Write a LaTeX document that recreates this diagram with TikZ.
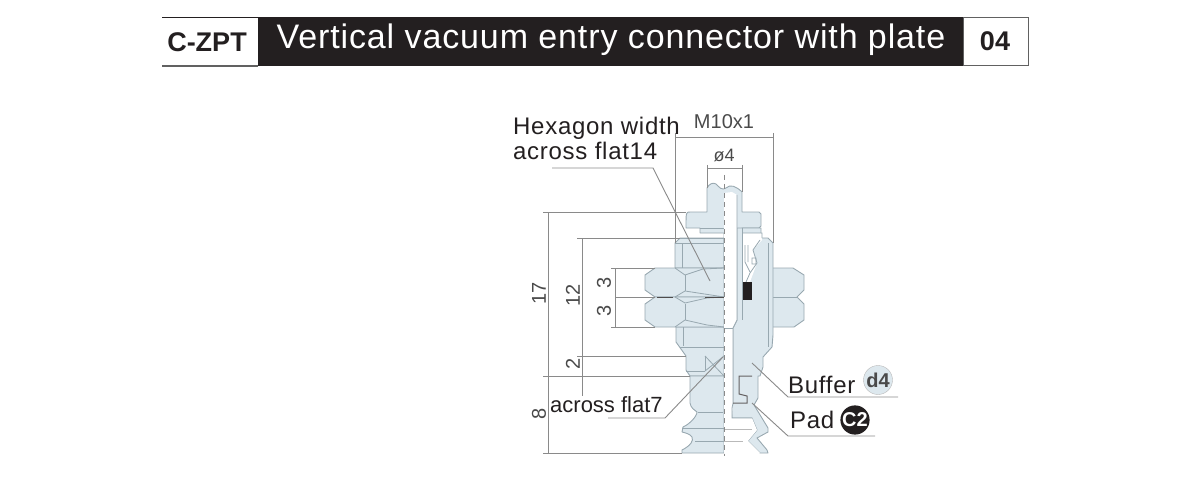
\documentclass[tikz,border=0pt]{standalone}
\usepackage{fontspec}
\setmainfont{Liberation Sans}
\newfontfamily\widefont[LetterSpace=3]{Liberation Sans}
\newfontfamily\titlefont[LetterSpace=2.6]{Liberation Sans}
\definecolor{barblack}{HTML}{231F20}
\definecolor{bodyblue}{HTML}{DDE8EE}
\definecolor{edgegrey}{HTML}{98A8B0}
\definecolor{dimgrey}{HTML}{8A8A8A}
\definecolor{numgrey}{HTML}{4A4A4A}
\tikzset{
    partline/.style={draw=edgegrey, fill=bodyblue, line width=0.9pt, line join=round},
    innerline/.style={edgegrey, line width=0.8pt},
    dimline/.style={dimgrey, line width=0.9pt},
    leader/.style={dimgrey, line width=0.9pt},
    dimtext/.style={numgrey, font=\fontsize{20}{20}\selectfont, inner sep=0pt},
    calltext/.style={barblack, font=\widefont\fontsize{24}{25}\selectfont, inner sep=0pt, align=left},
}
\begin{document}
\begin{tikzpicture}[x=1pt, y=-1pt]
        \useasboundingbox (0,0) rectangle (1200,500);

        % header bar
        \fill[barblack] (258,17) rectangle (963,66);
        \draw[barblack, line width=1pt] (162,17.5) -- (258,17.5);
        \draw[dimgrey!70!black, line width=1.2pt] (162,66) -- (258,66);
        \draw[fill=white, draw=dimgrey!70!black, line width=1pt] (963,18) rectangle (1028,66);
        \node[inner sep=0pt, font=\bfseries\fontsize{27}{27}\selectfont, barblack] (series) at (207,42) {C-ZPT};
        \node[inner sep=0pt, text=white, font=\titlefont\fontsize{34}{34}\selectfont] (title) at (611,40) {Vertical vacuum entry connector with plate};
        \node[inner sep=0pt, font=\bfseries\fontsize{27}{27}\selectfont, barblack] (page) at (995,41) {04};

        % right nuts, behind the body
        \draw[partline] (770,268) -- (793,268) -- (804,275) -- (804,290) -- (797,297) -- (804,304) -- (804,320) -- (794,327) -- (770,327) -- cycle;
        \draw[innerline] (773,297) -- (797,297);

        % left half of body
        \draw[partline] (724,238) -- (680,238) -- (675,243) -- (675,268) -- (724,268) -- cycle;
        \draw[partline] (724,327) -- (676,327) -- (676,342) -- (686,356) -- (686,370) -- (690,376) -- (724,376) -- cycle;
        \draw[partline] (724,376) -- (690,376) -- (690,403) .. controls (691,408) and (694,410) .. (697,412) .. controls (697,416) and (690,424) .. (683,427) -- (682,432) .. controls (686,433) and (690,434) .. (692,437) .. controls (694,441) and (690,446) .. (682,450) -- (682,453) -- (724,453) -- cycle;
        \draw[partline] (686,228) .. controls (686,212) and (686,212) .. (690,212) -- (707,212) -- (707,188) .. controls (709,184) and (713,182) .. (716,184) .. controls (719,187) and (722,191) .. (726,188) .. controls (730,184) and (736,186) .. (742,192) -- (742,212) -- (759,212) -- (761,214) -- (761,226) -- (759,228) -- (742,228) -- (742,320) -- (737,320) -- (733,328) -- (724,328) -- (724,233) -- (700,233) -- (700,228) -- cycle;

        % nuts on the left
        \draw[partline] (724,268) -- (655,268) -- (645,275) -- (645,290) -- (655,297) -- (724,297) -- cycle;
        \draw[partline] (724,297) -- (655,297) -- (645,304) -- (645,320) -- (655,327) -- (724,327) -- cycle;
        \draw[innerline] (685,275) -- (685,291) (685,304) -- (685,320);
        \draw[innerline] (675,268) -- (685,275) -- (703,269) -- (724,268);
        \draw[innerline] (675,297) -- (685,291) -- (724,297) -- (707,298) -- (685,303) -- (675,297);
        \draw[innerline] (675,327) -- (685,320) -- (707,325) -- (724,327);
        \draw[barblack!80, line width=0.8pt] (657,297) -- (673,297) (705,297) -- (724,297);

        % right body and pad holder
        \draw[partline] (737,228) -- (761,228) -- (761,238) -- (768,238) -- (773,243) -- (773,335) -- (772,347) -- (763,357) -- (763,367) -- (760,376) -- (758,376) -- (758,398) -- (754,405) -- (768,428) -- (768,432) -- (757,438) -- (767,450) -- (768,453) -- (760,453) -- (748,441) -- (757,430) -- (752,418) -- (732,418) -- (732,408) -- (733,403) -- (733,328) -- (737,320) -- cycle;
        \fill[white] (724,193) -- (732,192) -- (737,195) -- (737,320) -- (733,328) -- (733,403) -- (732,418) -- (752,418) -- (757,430) -- (748,441) -- (760,453) -- (724,453) -- cycle;
        \draw[innerline] (737,195) -- (737,320) -- (733,328) -- (733,403) -- (732,408) -- (732,418) -- (752,418);
        \draw[innerline] (725,328) -- (733,328);

        % cavity, seal and inner lines
        \fill[white] (743,233) -- (762,233) -- (762,240) -- (753,250) -- (757,263) -- (750,282) -- (743,282) -- cycle;
        \draw[innerline] (743,233) -- (762,233) -- (762,238) (760,240) -- (753,250) -- (757,263) -- (750,273) -- (746,282);
        \draw[innerline] (748,245) -- (748,262) (745,245) -- (745,262) (745,262) -- (750,272) (752,258) rectangle (756,264);
        \fill[barblack] (743,282) rectangle (752,300);
        \draw[innerline] (768,243) -- (768,347);
        \draw[innerline] (742,228) -- (742,320);
        \draw[barblack!70, line width=1pt] (752,376) -- (739,376) -- (739,394) -- (747,396) -- (747,403) -- (733,403);
        \draw[innerline] (700,228) -- (724,228) (680,238) -- (724,238) (675,243) -- (724,243) (682,243) -- (682,268);
        \draw[innerline] (683,327) -- (683,346) (680,347) -- (724,347) (686,371) -- (705,371);
        \draw[innerline] (705,356) -- (705,371);
        \draw[innerline] (705,356) -- (724,376) (724,356) -- (705,371);
        \draw[innerline] (698,412) -- (723,412) (682,428) -- (724,428) (695,441) -- (724,441);
        \draw[dimgrey!60] (724,429) -- (752,429) (724,441) -- (743,441);

        % centre line
        \draw[dimgrey, line width=1pt, dash pattern=on 5pt off 4pt] (724,175) -- (724,456);

        % dimension lines
        \coordinate (threadL) at (675,133);
        \coordinate (threadR) at (773,133);
        \coordinate (boreL) at (707,165);
        \coordinate (boreR) at (742,165);
        \draw[dimline] (threadL) -- (675,243) (threadR) -- (773,243) (675,137) -- (773,137);
        \draw[dimline] (boreL) -- (707,188) (boreR) -- (742,192) (707,168) -- (742,168);
        \draw[dimline] (543,212) -- (686,212) (548,212) -- (548,453) (543,376) -- (690,376) (543,453) -- (682,453);
        \draw[dimline] (577,238) -- (680,238) (582,238) -- (582,396) (577,356) -- (686,356);
        \draw[dimline] (611,268) -- (655,268) (615,268) -- (615,327) (615,297) -- (655,297) (611,327) -- (655,327);

        \node[dimtext] (threadtext) at (724,122) {M10x1};
        \node[dimtext, font=\fontsize{18}{18}\selectfont] (boretext) at (724,155) {ø4};
        \node[dimtext, rotate=90] (len17) at (539,293) {17};
        \node[dimtext, rotate=90] (len12) at (573,295) {12};
        \node[dimtext, rotate=90] (nutA) at (604,283) {3};
        \node[dimtext, rotate=90] (nutB) at (604,311) {3};
        \node[dimtext, rotate=90] (len2) at (573,364) {2};
        \node[dimtext, rotate=90] (len8) at (539,414) {8};

        % callouts
        \node[calltext, anchor=north west] (hexlabel) at (513,117) {Hexagon width\\across flat14};
        \node[barblack, inner sep=0pt, font=\fontsize{22}{22}\selectfont, anchor=west] (flatlabel) at (550,405) {across flat7};
        \node[calltext, anchor=west] (bufferlabel) at (788,385) {Buffer};
        \node[calltext, anchor=west] (padlabel) at (790,420) {Pad};
        \node[circle, draw=dimgrey!60, fill=bodyblue, minimum size=29pt, inner sep=0pt, font=\bfseries\fontsize{20}{20}\selectfont, text=numgrey] (bufferbadge) at (878,380) {d4};
        \node[circle, fill=barblack, minimum size=29pt, inner sep=0pt, font=\bfseries\fontsize{20}{20}\selectfont, text=white] (padbadge) at (855,420) {C2};

        \coordinate (hexA) at (552,168);
        \coordinate (hexB) at (653,168);
        \coordinate (hexC) at (710,281);
        \coordinate (flatA) at (608,418);
        \coordinate (flatB) at (665,418);
        \coordinate (flatC) at (723,357);
        \coordinate (bufA) at (898,397);
        \coordinate (bufB) at (788,397);
        \coordinate (bufC) at (752,363);
        \coordinate (padA) at (875,436);
        \coordinate (padB) at (788,436);
        \coordinate (padC) at (752,403);
        \draw[leader] (hexA) -- (hexB) -- (hexC);
        \draw[leader] (flatA) -- (flatB) -- (flatC);
        \draw[leader] (bufA) -- (bufB) -- (bufC);
        \draw[leader] (padA) -- (padB) -- (padC);
    \end{tikzpicture}
\end{document}
